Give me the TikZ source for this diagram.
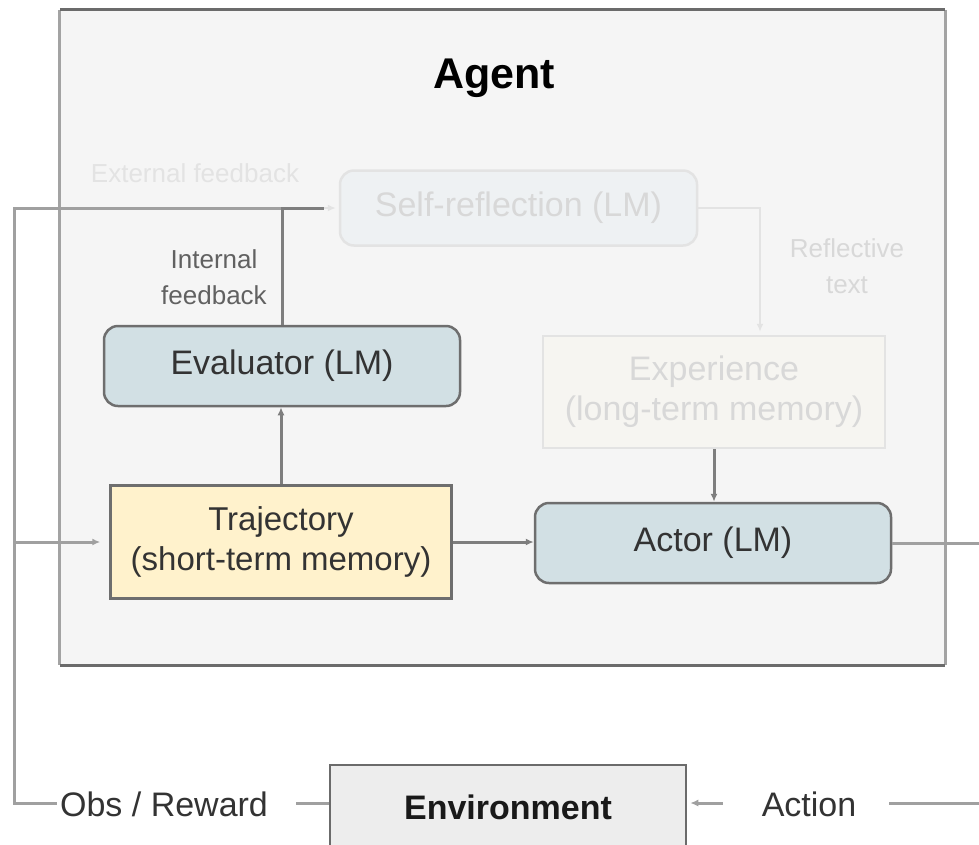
\documentclass[tikz,border=0pt]{standalone}
\usepackage{fontspec}
\setmainfont{Liberation Sans}
\usetikzlibrary{arrows.meta}

\definecolor{agentbg}{HTML}{F5F5F5}
\definecolor{framedark}{HTML}{6B6B6B}
\definecolor{frameside}{HTML}{A3A3A3}
\definecolor{lmfill}{HTML}{D2E0E4}
\definecolor{trajfill}{HTML}{FFF2CC}
\definecolor{envfill}{HTML}{EDEDED}
\definecolor{boxedge}{HTML}{6E6E6E}
\definecolor{fadefill}{HTML}{EEF1F3}
\definecolor{fadeexp}{HTML}{F6F5F1}
\definecolor{fadeedge}{HTML}{E3E3E3}
\definecolor{fadetext}{HTML}{D8D8D8}
\definecolor{outercol}{HTML}{A0A0A0}
\definecolor{innercol}{HTML}{7E7E7E}
\definecolor{boxtext}{HTML}{333333}

\tikzset{
  tip/.tip={Latex[length=8pt,width=7pt]},
  lmbox/.style={draw=boxedge, line width=2.5pt, fill=lmfill, rounded corners=14pt,
    inner sep=0pt, text=boxtext, font=\fontsize{34}{40}\selectfont},
  membox/.style={draw=boxedge, line width=2.5pt, fill=trajfill, inner sep=0pt,
    text=boxtext, align=center, font=\fontsize{33}{40}\selectfont},
  fadebox/.style={draw=fadeedge, line width=2.5pt, inner sep=0pt, text=fadetext,
    align=center, font=\fontsize{34}{40}\selectfont},
  envbox/.style={draw=framedark, line width=2.5pt, fill=envfill, inner sep=0pt,
    text=black!90, font=\bfseries\fontsize{34}{40}\selectfont},
  smalllbl/.style={inner sep=2pt, align=center, font=\fontsize{26}{36}\selectfont},
  flowlbl/.style={inner sep=3pt, text=boxtext, font=\fontsize{34}{40}\selectfont},
  outerline/.style={draw=outercol, line width=3pt},
  innerline/.style={draw=innercol, line width=3pt},
  fadeline/.style={draw=fadeedge, line width=2.5pt},
}

\begin{document}
\begin{tikzpicture}[x=1pt, y=-1pt]
\useasboundingbox (0,0) rectangle (979,844);
\clip (0,0) rectangle (979,844);
\fill[white] (0,0) rectangle (979,844);

% agent frame
\node[fill=agentbg, minimum width=885pt, minimum height=655pt, inner sep=0pt] (agent) at (502.5,337.5) {};
\draw[frameside, line width=3pt] (agent.north west) -- (agent.south west)
      (agent.north east) -- (agent.south east);
\draw[framedark, line width=3pt] (agent.north west) -- (agent.north east)
      (agent.south west) -- (agent.south east);
\node[font=\bfseries\fontsize{43}{50}\selectfont, text=black] (agenttitle) at (494,78) {Agent};

% components
\node[fadebox, fill=fadefill, rounded corners=14pt, minimum width=357pt, minimum height=75pt] (sr) at (518.5,208) {Self-reflection (LM)};
\node[fadebox, fill=fadeexp, minimum width=342pt, minimum height=112pt] (exp) at (714,392) {Experience\\(long-term memory)};
\node[lmbox, minimum width=356pt, minimum height=80pt] (eval) at (282,366) {Evaluator (LM)};
\node[membox, minimum width=341pt, minimum height=113pt] (traj) at (281,542) {Trajectory\\(short-term memory)};
\node[lmbox, minimum width=356pt, minimum height=80pt] (actor) at (713,543) {Actor (LM)};
\node[envbox, minimum width=356pt, minimum height=84pt] (env) at (508,807) {Environment};

% labels
\node[smalllbl, text=fadeedge] (extlbl) at (195,173) {External feedback};
\node[smalllbl, text=black!62] (intlbl) at (214,277) {Internal\\feedback};
\node[smalllbl, text=fadetext] (refllbl) at (847,266) {Reflective\\text};
\node[flowlbl] (obs) at (164,804) {Obs / Reward};
\node[flowlbl] (act) at (809,804) {Action};

% loop coordinates
\coordinate (cornerBL) at (14,803);
\coordinate (cornerTL) at (14,208);
\coordinate (cornerML) at (14,542);
\coordinate (fbjoin) at (282,208);
\coordinate (fbend) at (324,208);
\coordinate (cornerTR) at (992,543);
\coordinate (cornerBR) at (992,803);

% external loop: environment back into the agent
\draw[outerline, shorten <=25pt] (cornerBL -| obs.east) -- (cornerBL -| env.west);
\draw[outerline] (cornerBL -| obs.west) -- (cornerBL) -- (cornerTL) -- (fbjoin);
\draw[outerline, -tip, shorten >=9pt] (cornerML) -- (traj.west);

% internal feedback path
\draw[innerline] (eval.north) -- (fbjoin) -- (fbend);
\draw[fadeline, -tip, shorten >=3pt] (fbend) -- (sr.west);
\draw[innerline, -tip] (traj.north) -- (traj.north |- eval.south);

% reflection into long-term memory
\draw[fadeline, -tip, shorten >=3pt] (sr.east) -| ([xshift=46pt]exp.north);
\draw[innerline, -tip] (exp.south) -- (exp.south |- actor.north);
\draw[innerline, -tip] (traj.east) -- (traj.east -| actor.west);

% actor output to environment
\draw[outerline] (actor.east) -- (cornerTR) -- (cornerBR) -- ([xshift=30pt]cornerBR -| act.east);
\draw[outerline, -tip, shorten <=36pt, shorten >=3pt] (cornerBR -| act.west) -- (cornerBR -| env.east);
\end{tikzpicture}
\end{document}
